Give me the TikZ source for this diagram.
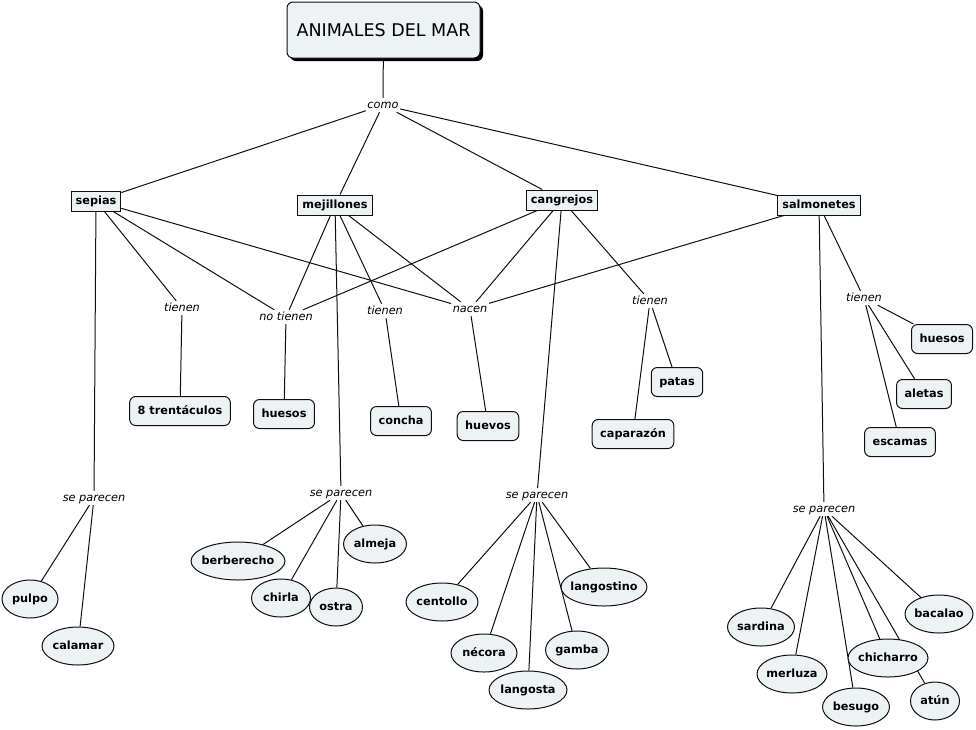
\documentclass[tikz,border=0pt]{standalone}
\usepackage{fontspec}
\setmainfont{DejaVu Sans}
\usetikzlibrary{shapes.geometric,shadows,backgrounds}
\definecolor{relleno}{RGB}{237,243,245}
\definecolor{linea}{RGB}{15,15,15}
\tikzset{
  titulo/.style={draw=linea, line width=1pt, fill=relleno, rounded corners=6pt, minimum width=193pt, minimum height=56pt,
    font=\fontsize{17.5}{20}\selectfont,
    drop shadow={shadow xshift=3pt, shadow yshift=-3pt, fill=black, opacity=1}},
  concepto/.style={draw=linea, line width=1pt, fill=relleno, font=\bfseries\fontsize{11.3}{13}\selectfont,
    inner xsep=4.5pt, inner ysep=0pt, minimum height=20pt, text height=8.5pt, text depth=2.5pt},
  hoja/.style={draw=linea, line width=1pt, fill=relleno, rounded corners=6pt, font=\bfseries\fontsize{11.3}{13}\selectfont,
    inner xsep=8pt, inner ysep=0pt, minimum height=29pt, text height=8.5pt, text depth=2.5pt},
  especie/.style={ellipse, draw=linea, line width=1pt, fill=relleno, font=\bfseries\fontsize{11.3}{13}\selectfont,
    inner xsep=-30pt, inner ysep=0pt, minimum height=38pt, text height=8.5pt, text depth=2.5pt},
  enlace/.style={font=\itshape\fontsize{11.3}{13}\selectfont, inner sep=1.5pt, text height=8.5pt, text depth=2.5pt},
  rama/.style={draw=linea, line width=1pt}
}
\begin{document}
\begin{tikzpicture}[x=1pt,y=-1pt]
\useasboundingbox (0,0) rectangle (976,729);

\node[titulo] (mar) at (383.5,30) {ANIMALES DEL MAR};
\node[enlace] (como) at (383,105) {como};

\node[concepto] (sepias) at (96,201) {sepias};
\node[concepto] (mejillones) at (335,205) {mejillones};
\node[concepto] (cangrejos) at (562,200) {cangrejos};
\node[concepto] (salmonetes) at (819,205) {salmonetes};

\node[enlace] (tienenA) at (182,308) {tienen};
\node[enlace] (notienen) at (286,317) {no tienen};
\node[enlace] (tienenB) at (385,311) {tienen};
\node[enlace] (nacen) at (470,309) {nacen};
\node[enlace] (tienenC) at (650,301) {tienen};
\node[enlace] (tienenD) at (864,298) {tienen};

\node[hoja] (trentaculos) at (180,411) {8 trentáculos};
\node[hoja] (huesosA) at (284,414) {huesos};
\node[hoja] (concha) at (401,421) {concha};
\node[hoja] (huevos) at (488,426) {huevos};
\node[hoja] (patas) at (677,382) {patas};
\node[hoja] (caparazon) at (633,434) {caparazón};
\node[hoja] (huesosB) at (942,339) {huesos};
\node[hoja] (aletas) at (924,394) {aletas};
\node[hoja] (escamas) at (900,442) {escamas};

\node[enlace] (pareceA) at (94,498) {se parecen};
\node[enlace] (pareceB) at (341,493) {se parecen};
\node[enlace] (pareceC) at (537,495) {se parecen};
\node[enlace] (pareceD) at (824,509) {se parecen};

% parecidos
\node[especie, minimum width=56pt] (pulpo) at (30,599) {pulpo};
\node[especie, minimum width=72pt] (calamar) at (78,646) {calamar};
\node[especie, minimum width=94pt] (berberecho) at (238,561) {berberecho};
\node[especie, minimum width=59pt] (chirla) at (281,598) {chirla};
\node[especie, minimum width=53pt] (ostra) at (336,607) {ostra};
\node[especie, minimum width=63pt] (almeja) at (375,544) {almeja};
\node[especie, minimum width=72pt] (centollo) at (442,602) {centollo};
\node[especie, minimum width=66pt] (necora) at (484,653) {nécora};
\node[especie, minimum width=78pt] (langosta) at (528,690) {langosta};
\node[especie, minimum width=63pt] (gamba) at (577,650) {gamba};
\node[especie, minimum width=86pt] (langostino) at (604,587) {langostino};
\node[especie, minimum width=67pt] (sardina) at (761,627) {sardina};
\node[especie, minimum width=70pt] (merluza) at (792,674) {merluza};
\node[especie, minimum width=67pt] (besugo) at (856,707) {besugo};
\node[especie, minimum width=80pt] (chicharro) at (888,658) {chicharro};
\node[especie, minimum width=68pt] (bacalao) at (939,614) {bacalao};
\node[especie, minimum width=49pt] (atun) at (935,701) {atún};

\begin{scope}[on background layer]
\draw[rama] (mar) -- (como);
\foreach \c in {sepias,mejillones,cangrejos,salmonetes}
  \draw[rama] (como) -- (\c);

\draw[rama] (sepias) -- (tienenA);
\draw[rama] (sepias) -- (notienen);
\draw[rama] (sepias) -- (nacen);
\draw[rama] (sepias) -- (pareceA);
\draw[rama] (mejillones) -- (notienen);
\draw[rama] (mejillones) -- (tienenB);
\draw[rama] (mejillones) -- (nacen);
\draw[rama] (mejillones) -- (pareceB);
\draw[rama] (cangrejos) -- (notienen);
\draw[rama] (cangrejos) -- (nacen);
\draw[rama] (cangrejos) -- (tienenC);
\draw[rama] (cangrejos) -- (pareceC);
\draw[rama] (salmonetes) -- (nacen);
\draw[rama] (salmonetes) -- (tienenD);
\draw[rama] (salmonetes) -- (pareceD);

\draw[rama] (tienenA) -- (trentaculos);
\draw[rama] (notienen) -- (huesosA);
\draw[rama] (tienenB) -- (concha);
\draw[rama] (nacen) -- (huevos);
\draw[rama] (tienenC) -- (patas);
\draw[rama] (tienenC) -- (caparazon);
\foreach \h in {huesosB,aletas,escamas}
  \draw[rama] (tienenD) -- (\h);

\foreach \e in {pulpo,calamar}
  \draw[rama] (pareceA) -- (\e);
\foreach \e in {berberecho,chirla,ostra,almeja}
  \draw[rama] (pareceB) -- (\e);
\foreach \e in {centollo,necora,langosta,gamba,langostino}
  \draw[rama] (pareceC) -- (\e);
\foreach \e in {sardina,merluza,besugo,chicharro,atun,bacalao}
  \draw[rama] (pareceD) -- (\e);
\end{scope}
\end{tikzpicture}
\end{document}
